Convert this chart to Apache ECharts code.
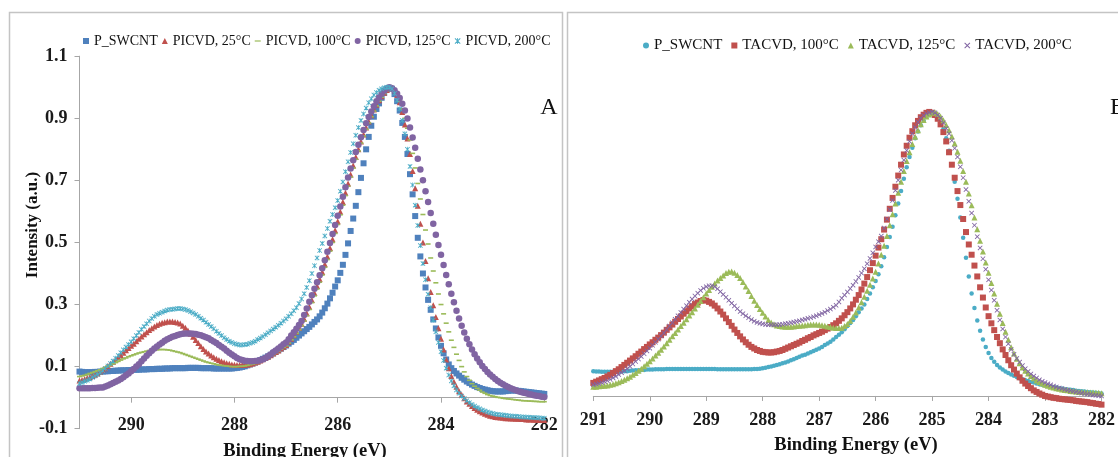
<!DOCTYPE html>
<html><head><meta charset="utf-8">
<script src="https://cdn.jsdelivr.net/npm/echarts@6/dist/echarts.min.js"></script>
<style>html,body{margin:0;padding:0;background:#fff;overflow:hidden}#c{width:1118px;height:457px}</style>
</head><body><div id="c"></div>
<script>
// Sampling grid of binding energies (eV): 291.00 down to 282.00 in 0.05 eV steps
const E_START = 291, E_STEP = 0.05, N_POINTS = 181;
const energy = Array.from({length: N_POINTS}, (_, i) => +(E_START - i * E_STEP).toFixed(2));

const leftNames = ['P_SWCNT', 'PICVD, 25°C', 'PICVD, 100°C', 'PICVD, 125°C', 'PICVD, 200°C'];
const rightNames = ['P_SWCNT', 'TACVD, 100°C', 'TACVD, 125°C', 'TACVD, 200°C'];
const xTicksLeft = [290, 288, 286, 284, 282];
const xTicksRight = [291, 290, 289, 288, 287, 286, 285, 284, 283, 282];
const yTicks = [-0.1, 0.1, 0.3, 0.5, 0.7, 0.9, 1.1];
const xTitle = 'Binding Energy (eV)';
const yTitle = 'Intensity (a.u.)';

// ---- Panel A ----
const leftP = [
0.084,0.083,0.082,0.082,0.082,0.082,0.083,0.083,0.084,0.084,
0.085,0.085,0.086,0.086,0.087,0.087,0.088,0.088,0.088,0.089,
0.089,0.090,0.090,0.090,0.091,0.091,0.091,0.092,0.092,0.092,
0.093,0.093,0.093,0.094,0.094,0.094,0.095,0.095,0.095,0.095,
0.095,0.095,0.096,0.096,0.096,0.096,0.096,0.095,0.095,0.095,
0.095,0.095,0.094,0.094,0.094,0.094,0.094,0.094,0.094,0.094,
0.095,0.096,0.097,0.099,0.101,0.104,0.107,0.110,0.113,0.117,
0.121,0.125,0.129,0.133,0.138,0.143,0.148,0.153,0.158,0.163,
0.168,0.174,0.180,0.186,0.193,0.200,0.207,0.214,0.221,0.228,
0.236,0.244,0.252,0.262,0.274,0.288,0.303,0.320,0.338,0.358,
0.378,0.402,0.428,0.460,0.497,0.537,0.577,0.618,0.662,0.708,
0.755,0.800,0.840,0.876,0.905,0.930,0.948,0.966,0.982,0.993,
0.998,0.995,0.978,0.955,0.925,0.885,0.840,0.785,0.720,0.655,
0.585,0.515,0.455,0.400,0.355,0.315,0.283,0.252,0.223,0.194,
0.167,0.143,0.123,0.107,0.095,0.086,0.078,0.071,0.064,0.058,
0.052,0.047,0.042,0.038,0.034,0.031,0.028,0.026,0.024,0.022,
0.021,0.020,0.020,0.020,0.020,0.021,0.022,0.023,0.023,0.023,
0.022,0.021,0.020,0.019,0.018,0.017,0.016,0.015,0.014,0.013,
0.012];
const left25 = [
0.055,0.057,0.060,0.063,0.066,0.070,0.074,0.078,0.083,0.089,
0.095,0.102,0.109,0.116,0.123,0.130,0.137,0.145,0.153,0.160,
0.167,0.174,0.182,0.190,0.197,0.204,0.211,0.218,0.224,0.229,
0.234,0.238,0.241,0.243,0.245,0.245,0.245,0.244,0.242,0.239,
0.232,0.225,0.216,0.206,0.196,0.186,0.176,0.166,0.157,0.149,
0.142,0.136,0.130,0.125,0.121,0.117,0.114,0.111,0.109,0.107,
0.106,0.105,0.105,0.105,0.106,0.107,0.108,0.110,0.113,0.116,
0.120,0.124,0.128,0.132,0.137,0.142,0.147,0.152,0.158,0.164,
0.170,0.180,0.190,0.201,0.212,0.225,0.238,0.254,0.272,0.293,
0.315,0.337,0.360,0.382,0.405,0.430,0.455,0.482,0.510,0.539,
0.568,0.599,0.630,0.660,0.690,0.719,0.748,0.775,0.800,0.825,
0.848,0.870,0.890,0.910,0.928,0.944,0.958,0.971,0.982,0.991,
0.997,0.998,0.990,0.975,0.952,0.920,0.880,0.835,0.785,0.730,
0.675,0.618,0.560,0.500,0.440,0.385,0.340,0.298,0.260,0.224,
0.190,0.155,0.123,0.095,0.070,0.051,0.035,0.021,0.009,-0.002,
-0.012,-0.020,-0.027,-0.033,-0.039,-0.044,-0.048,-0.052,-0.055,-0.058,
-0.060,-0.062,-0.063,-0.064,-0.065,-0.066,-0.066,-0.067,-0.067,-0.068,
-0.068,-0.069,-0.069,-0.070,-0.070,-0.070,-0.071,-0.071,-0.072,-0.072,
-0.072];
const left100 = [
0.068,0.070,0.072,0.075,0.078,0.081,0.084,0.087,0.090,0.094,
0.098,0.102,0.105,0.109,0.113,0.117,0.121,0.125,0.128,0.132,
0.135,0.138,0.141,0.144,0.146,0.148,0.150,0.152,0.153,0.154,
0.154,0.155,0.155,0.155,0.154,0.153,0.151,0.149,0.147,0.145,
0.142,0.139,0.136,0.133,0.130,0.127,0.124,0.121,0.118,0.115,
0.113,0.111,0.109,0.107,0.105,0.104,0.103,0.102,0.101,0.100,
0.100,0.100,0.101,0.101,0.102,0.104,0.106,0.108,0.110,0.113,
0.117,0.121,0.125,0.129,0.134,0.139,0.145,0.150,0.156,0.162,
0.167,0.176,0.186,0.196,0.207,0.219,0.232,0.247,0.264,0.284,
0.306,0.328,0.350,0.372,0.395,0.420,0.445,0.472,0.500,0.529,
0.558,0.589,0.620,0.651,0.681,0.711,0.740,0.768,0.795,0.820,
0.843,0.865,0.885,0.905,0.923,0.940,0.955,0.968,0.980,0.989,
0.996,0.999,0.990,0.975,0.955,0.930,0.900,0.868,0.830,0.787,
0.740,0.690,0.640,0.590,0.540,0.495,0.450,0.408,0.370,0.334,
0.300,0.270,0.240,0.212,0.185,0.162,0.140,0.120,0.100,0.083,
0.068,0.056,0.045,0.037,0.030,0.024,0.018,0.014,0.010,0.007,
0.005,0.003,0.001,0.000,-0.002,-0.003,-0.004,-0.005,-0.006,-0.007,
-0.008,-0.009,-0.010,-0.010,-0.011,-0.011,-0.012,-0.012,-0.013,-0.013,
-0.013];
const left125 = [
0.030,0.030,0.030,0.030,0.030,0.031,0.031,0.032,0.033,0.033,
0.036,0.039,0.043,0.047,0.051,0.055,0.060,0.066,0.072,0.078,
0.085,0.092,0.100,0.108,0.117,0.126,0.135,0.143,0.151,0.158,
0.165,0.171,0.177,0.183,0.188,0.192,0.196,0.199,0.202,0.204,
0.206,0.207,0.207,0.207,0.206,0.205,0.203,0.201,0.198,0.195,
0.191,0.186,0.181,0.176,0.170,0.164,0.158,0.151,0.145,0.139,
0.133,0.128,0.124,0.121,0.119,0.118,0.117,0.117,0.118,0.119,
0.121,0.124,0.128,0.133,0.139,0.146,0.152,0.158,0.165,0.172,
0.178,0.188,0.200,0.211,0.222,0.234,0.247,0.266,0.287,0.309,
0.330,0.351,0.372,0.394,0.417,0.443,0.470,0.498,0.527,0.556,
0.586,0.616,0.647,0.678,0.709,0.738,0.765,0.791,0.815,0.839,
0.862,0.884,0.904,0.922,0.939,0.955,0.968,0.979,0.989,0.996,
1.000,0.997,0.990,0.979,0.965,0.947,0.925,0.899,0.870,0.838,
0.805,0.770,0.735,0.700,0.665,0.630,0.595,0.560,0.525,0.492,
0.460,0.427,0.395,0.365,0.335,0.307,0.280,0.255,0.232,0.210,
0.190,0.172,0.155,0.140,0.126,0.114,0.102,0.092,0.083,0.075,
0.067,0.060,0.054,0.048,0.043,0.038,0.034,0.030,0.027,0.024,
0.021,0.018,0.016,0.014,0.012,0.010,0.008,0.006,0.005,0.003,
0.002];
const left200 = [
0.046,0.049,0.053,0.056,0.060,0.065,0.070,0.075,0.080,0.087,
0.094,0.102,0.110,0.118,0.127,0.136,0.145,0.154,0.163,0.171,
0.180,0.190,0.200,0.210,0.220,0.229,0.238,0.247,0.255,0.262,
0.268,0.272,0.275,0.279,0.282,0.284,0.285,0.286,0.287,0.287,
0.286,0.284,0.281,0.277,0.273,0.268,0.262,0.256,0.250,0.243,
0.236,0.229,0.222,0.214,0.207,0.200,0.193,0.187,0.182,0.178,
0.174,0.172,0.170,0.170,0.171,0.172,0.175,0.178,0.182,0.187,
0.192,0.197,0.203,0.209,0.215,0.221,0.227,0.233,0.240,0.247,
0.254,0.262,0.270,0.280,0.290,0.303,0.318,0.335,0.355,0.377,
0.400,0.425,0.450,0.474,0.497,0.521,0.545,0.568,0.590,0.612,
0.635,0.665,0.695,0.728,0.760,0.790,0.818,0.845,0.870,0.893,
0.914,0.933,0.950,0.963,0.975,0.983,0.990,0.995,0.998,1.000,
1.000,0.995,0.980,0.958,0.930,0.893,0.850,0.800,0.745,0.685,
0.620,0.555,0.490,0.432,0.380,0.333,0.290,0.250,0.212,0.178,
0.148,0.120,0.095,0.073,0.054,0.038,0.025,0.014,0.005,-0.003,
-0.010,-0.016,-0.022,-0.027,-0.032,-0.036,-0.040,-0.043,-0.046,-0.049,
-0.051,-0.053,-0.054,-0.055,-0.056,-0.057,-0.058,-0.059,-0.060,-0.060,
-0.061,-0.062,-0.062,-0.063,-0.063,-0.064,-0.064,-0.065,-0.065,-0.066,
-0.066];

// ---- Panel B ----
const rightP = [
0.080,0.079,0.079,0.078,0.078,0.078,0.078,0.078,0.078,0.079,
0.079,0.080,0.080,0.081,0.082,0.083,0.083,0.084,0.084,0.085,
0.085,0.085,0.086,0.086,0.086,0.086,0.087,0.087,0.087,0.087,
0.087,0.087,0.087,0.087,0.087,0.087,0.087,0.087,0.087,0.087,
0.087,0.087,0.087,0.087,0.086,0.086,0.086,0.086,0.086,0.086,
0.086,0.086,0.086,0.086,0.086,0.086,0.086,0.087,0.087,0.088,
0.089,0.091,0.093,0.095,0.097,0.100,0.102,0.105,0.108,0.111,
0.115,0.118,0.122,0.126,0.130,0.133,0.137,0.141,0.145,0.149,
0.153,0.158,0.164,0.169,0.175,0.182,0.190,0.197,0.205,0.215,
0.225,0.235,0.245,0.257,0.270,0.282,0.295,0.312,0.330,0.350,
0.370,0.392,0.418,0.447,0.480,0.512,0.545,0.582,0.620,0.660,
0.700,0.737,0.770,0.800,0.830,0.852,0.872,0.887,0.900,0.908,
0.912,0.905,0.895,0.880,0.860,0.830,0.790,0.745,0.690,0.635,
0.575,0.510,0.445,0.385,0.330,0.283,0.243,0.210,0.182,0.158,
0.138,0.122,0.110,0.100,0.092,0.085,0.079,0.074,0.069,0.065,
0.061,0.057,0.054,0.051,0.048,0.045,0.043,0.040,0.038,0.036,
0.034,0.032,0.030,0.028,0.027,0.025,0.024,0.022,0.021,0.020,
0.019,0.017,0.016,0.015,0.014,0.013,0.012,0.011,0.010,0.009,
0.008];
const right100 = [
0.042,0.046,0.050,0.054,0.058,0.063,0.068,0.074,0.080,0.086,
0.093,0.100,0.107,0.114,0.121,0.128,0.136,0.143,0.151,0.158,
0.166,0.173,0.181,0.188,0.196,0.204,0.213,0.221,0.230,0.239,
0.248,0.256,0.265,0.273,0.282,0.289,0.296,0.301,0.306,0.309,
0.307,0.303,0.298,0.291,0.282,0.272,0.262,0.250,0.238,0.226,
0.214,0.203,0.192,0.182,0.173,0.165,0.158,0.153,0.148,0.145,
0.142,0.141,0.140,0.140,0.141,0.143,0.145,0.148,0.152,0.156,
0.160,0.164,0.168,0.172,0.177,0.181,0.186,0.190,0.195,0.199,
0.203,0.207,0.212,0.217,0.222,0.228,0.234,0.242,0.250,0.260,
0.270,0.282,0.295,0.310,0.325,0.343,0.362,0.383,0.405,0.428,
0.452,0.478,0.505,0.536,0.568,0.603,0.638,0.674,0.710,0.745,
0.778,0.806,0.832,0.853,0.872,0.886,0.898,0.906,0.912,0.915,
0.912,0.905,0.893,0.875,0.850,0.820,0.785,0.745,0.703,0.660,
0.615,0.570,0.528,0.488,0.455,0.420,0.385,0.350,0.317,0.285,
0.257,0.234,0.212,0.190,0.170,0.150,0.132,0.115,0.099,0.085,
0.072,0.060,0.049,0.040,0.032,0.025,0.018,0.013,0.008,0.004,
0.000,-0.002,-0.004,-0.006,-0.007,-0.009,-0.010,-0.011,-0.012,-0.013,
-0.014,-0.016,-0.017,-0.018,-0.019,-0.020,-0.022,-0.023,-0.025,-0.026,
-0.028];
const right125 = [
0.030,0.030,0.031,0.032,0.033,0.034,0.036,0.038,0.041,0.044,
0.048,0.052,0.057,0.062,0.068,0.074,0.081,0.088,0.096,0.104,
0.112,0.121,0.130,0.139,0.149,0.159,0.170,0.181,0.192,0.203,
0.214,0.225,0.236,0.247,0.259,0.270,0.282,0.294,0.306,0.318,
0.330,0.341,0.352,0.362,0.372,0.380,0.388,0.396,0.400,0.401,
0.397,0.390,0.380,0.367,0.353,0.338,0.322,0.307,0.293,0.280,
0.268,0.256,0.245,0.237,0.231,0.227,0.225,0.224,0.223,0.223,
0.223,0.224,0.225,0.226,0.227,0.228,0.229,0.230,0.230,0.230,
0.229,0.228,0.226,0.224,0.222,0.220,0.219,0.219,0.220,0.225,
0.232,0.242,0.255,0.269,0.285,0.302,0.320,0.339,0.358,0.378,
0.400,0.427,0.455,0.484,0.515,0.550,0.585,0.620,0.655,0.690,
0.725,0.757,0.785,0.812,0.835,0.856,0.875,0.889,0.900,0.907,
0.912,0.914,0.908,0.900,0.888,0.873,0.856,0.836,0.813,0.787,
0.758,0.725,0.690,0.652,0.614,0.575,0.537,0.500,0.465,0.430,
0.397,0.364,0.330,0.297,0.265,0.235,0.207,0.181,0.157,0.137,
0.120,0.105,0.092,0.081,0.072,0.064,0.057,0.050,0.045,0.040,
0.036,0.033,0.030,0.027,0.025,0.023,0.021,0.019,0.018,0.016,
0.015,0.014,0.013,0.013,0.012,0.012,0.011,0.011,0.010,0.010,
0.009];
const right200 = [
0.036,0.038,0.040,0.043,0.046,0.049,0.053,0.058,0.063,0.069,
0.075,0.081,0.088,0.095,0.103,0.111,0.119,0.127,0.136,0.145,
0.154,0.163,0.173,0.183,0.193,0.203,0.214,0.225,0.236,0.247,
0.258,0.269,0.280,0.291,0.302,0.312,0.322,0.331,0.340,0.347,
0.352,0.355,0.355,0.352,0.345,0.336,0.327,0.318,0.308,0.299,
0.290,0.281,0.272,0.265,0.258,0.252,0.246,0.241,0.237,0.234,
0.232,0.230,0.229,0.229,0.229,0.229,0.230,0.231,0.233,0.234,
0.236,0.238,0.240,0.242,0.245,0.247,0.250,0.252,0.255,0.258,
0.262,0.266,0.270,0.275,0.280,0.286,0.292,0.303,0.315,0.325,
0.335,0.346,0.357,0.369,0.382,0.396,0.410,0.426,0.443,0.461,
0.480,0.497,0.515,0.541,0.570,0.600,0.630,0.662,0.695,0.728,
0.760,0.791,0.820,0.845,0.865,0.882,0.895,0.904,0.910,0.913,
0.915,0.912,0.905,0.895,0.880,0.862,0.845,0.823,0.798,0.770,
0.738,0.703,0.665,0.627,0.589,0.550,0.513,0.477,0.442,0.408,
0.374,0.341,0.308,0.276,0.245,0.216,0.190,0.168,0.150,0.134,
0.121,0.109,0.098,0.088,0.079,0.071,0.064,0.058,0.052,0.047,
0.043,0.039,0.036,0.032,0.029,0.026,0.024,0.021,0.019,0.017,
0.015,0.013,0.011,0.009,0.008,0.006,0.005,0.003,0.002,0.001,
0.000];

const COL_BLUE = '#4F81BD', COL_RED = '#C0504D', COL_GREEN = '#9BBB59', COL_PURPLE = '#8064A2', COL_CYAN = '#4BACC6';
const SYM_X = 'path://M0,1.2L1.2,0L5,3.8L8.8,0L10,1.2L6.2,5L10,8.8L8.8,10L5,6.2L1.2,10L0,8.8L3.8,5Z';
const SYM_STAR = 'path://M0,1.2L1.2,0L5,3.8L8.8,0L10,1.2L6.2,5L10,8.8L8.8,10L5,6.2L1.2,10L0,8.8L3.8,5ZM4.3,0L5.7,0L5.7,10L4.3,10Z';
const SYM_DASH = 'path://M0,0M0,4L10,4L10,6L0,6ZM10,10';
const SERIF = '"Liberation Serif", "Times New Roman", serif';
const R_SUFFIX = ' [B]';

function pairs(vals) { return vals.map((v, i) => [energy[i], v]); }
function sc(name, vals, grid, color, symbol, size) {
  return { type: 'scatter', name, xAxisIndex: grid, yAxisIndex: grid, data: pairs(vals),
    symbol, symbolSize: size, itemStyle: { color, opacity: 1 }, emphasis: { disabled: true }, animation: false };
}

const series = [
  sc(leftNames[0], leftP, 0, COL_BLUE, 'rect', 6),
  sc(leftNames[1], left25, 0, COL_RED, 'triangle', 6),
  sc(leftNames[2], left100, 0, COL_GREEN, 'rect', [5, 1.6]),
  sc(leftNames[3], left125, 0, COL_PURPLE, 'circle', 6.5),
  sc(leftNames[4], left200, 0, COL_CYAN, SYM_STAR, 5),
  sc(rightNames[0] + R_SUFFIX, rightP, 1, COL_CYAN, 'circle', 4.5),
  sc(rightNames[1] + R_SUFFIX, right100, 1, COL_RED, 'rect', 6),
  sc(rightNames[2] + R_SUFFIX, right125, 1, COL_GREEN, 'triangle', 6),
  sc(rightNames[3] + R_SUFFIX, right200, 1, COL_PURPLE, SYM_X, 5)
];

const tickLabelStyle = { fontFamily: SERIF, fontWeight: 'bold', fontSize: 18, color: '#1a1a1a' };
const axisLineStyle = { color: '#a6a6a6', width: 1 };

const option = {
  backgroundColor: '#ffffff',
  animation: false,
  grid: [
    { left: 79.5, top: 56.2, width: 464.8, height: 372.5 },
    { left: 593.3, top: 54.5, width: 509.4, height: 372.5 }
  ],
  xAxis: [
    { gridIndex: 0, type: 'value', min: 282, max: 291, interval: 2, inverse: true,
      axisLine: { onZero: true, lineStyle: axisLineStyle },
      axisTick: { show: true, length: 5, lineStyle: axisLineStyle },
      axisLabel: Object.assign({ margin: -12, showMaxLabel: false,
        formatter: v => xTicksLeft.includes(v) ? String(v) : '' }, tickLabelStyle),
      splitLine: { show: false } },
    { gridIndex: 1, type: 'value', min: 282, max: 291, interval: 1, inverse: true,
      axisLine: { onZero: true, lineStyle: axisLineStyle },
      axisTick: { show: true, length: 5, lineStyle: axisLineStyle },
      axisLabel: Object.assign({ margin: -16,
        formatter: v => xTicksRight.includes(v) ? String(v) : '' }, tickLabelStyle),
      splitLine: { show: false } }
  ],
  yAxis: [
    { gridIndex: 0, type: 'value', min: -0.1, max: 1.1, interval: 0.2,
      axisLine: { show: true, onZero: false, lineStyle: axisLineStyle },
      axisTick: { show: true, length: 5, lineStyle: axisLineStyle },
      axisLabel: Object.assign({ margin: 12,
        formatter: v => { const r = Math.round(v * 10) / 10; return yTicks.includes(r) ? r.toFixed(1) : ''; } }, tickLabelStyle),
      splitLine: { show: false } },
    { gridIndex: 1, type: 'value', min: -0.1, max: 1.1, interval: 0.2, show: false, splitLine: { show: false } }
  ],
  legend: [
    { data: [
        { name: leftNames[0], icon: 'rect' },
        { name: leftNames[1], icon: 'triangle' },
        { name: leftNames[2], icon: SYM_DASH },
        { name: leftNames[3], icon: 'circle' },
        { name: leftNames[4], icon: SYM_STAR } ],
      left: 83, top: 34, padding: 0, itemWidth: 6, itemHeight: 6, itemGap: 4, selectedMode: false,
      textStyle: { fontFamily: SERIF, fontSize: 14, color: '#111' } },
    { data: rightNames.map((n, i) => ({ name: n + R_SUFFIX, icon: ['circle', 'rect', 'triangle', SYM_X][i] })),
      formatter: n => n.replace(R_SUFFIX, ''),
      left: 643, top: 38, padding: 0, itemWidth: 6, itemHeight: 6, itemGap: 9, selectedMode: false,
      textStyle: { fontFamily: SERIF, fontSize: 15, color: '#111' } }
  ],
  graphic: [
    { type: 'rect', silent: true, z: -10, shape: { x: 9.5, y: 12.5, width: 553, height: 470 },
      style: { fill: 'none', stroke: '#c4c4c4', lineWidth: 1.5 } },
    { type: 'rect', silent: true, z: -10, shape: { x: 567.5, y: 12.5, width: 570, height: 470 },
      style: { fill: 'none', stroke: '#c4c4c4', lineWidth: 1.5 } },
    { type: 'text', silent: true, x: 33, y: 225, rotation: Math.PI / 2,
      style: { text: yTitle, font: 'bold 17px ' + SERIF, fill: '#111', textAlign: 'center', textVerticalAlign: 'middle' } },
    { type: 'text', silent: true, x: 305, y: 451,
      style: { text: xTitle, font: 'bold 18.5px ' + SERIF, fill: '#111', textAlign: 'center', textVerticalAlign: 'middle' } },
    { type: 'text', silent: true, x: 856, y: 445,
      style: { text: xTitle, font: 'bold 18.5px ' + SERIF, fill: '#111', textAlign: 'center', textVerticalAlign: 'middle' } },
    { type: 'text', silent: true, x: 549, y: 108,
      style: { text: 'A', font: '24px ' + SERIF, fill: '#111', textAlign: 'center', textVerticalAlign: 'middle' } },
    { type: 'text', silent: true, x: 1110, y: 108,
      style: { text: 'B', font: '24px ' + SERIF, fill: '#111', textAlign: 'left', textVerticalAlign: 'middle' } }
  ],
  series
};

const chart = echarts.init(document.getElementById('c'), null, { renderer: 'canvas', width: 1118, height: 457 });
chart.setOption(option);
</script>
</body></html>
